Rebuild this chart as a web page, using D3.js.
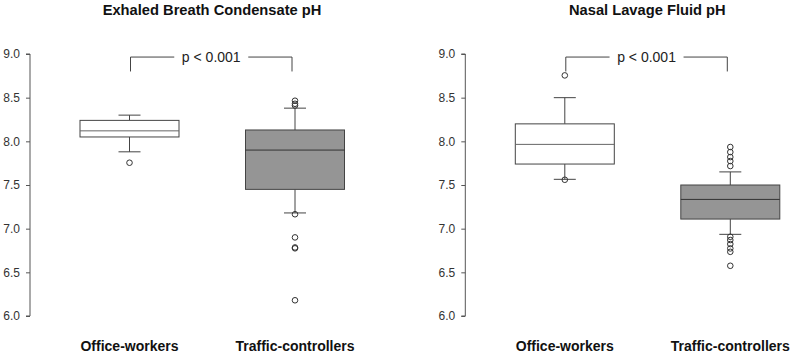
<!DOCTYPE html>
<html>
<head>
<meta charset="utf-8">
<script src="https://cdn.jsdelivr.net/npm/d3@7"></script>
<style>
  body { margin: 0; background: #fff; }
  svg { font-family: "Liberation Sans", Arial, sans-serif; }
</style>
</head>
<body>
<svg id="chart" width="793" height="355"></svg>
<script>
// data
const titles = ["Exhaled Breath Condensate pH", "Nasal Lavage Fluid pH"];
const groups = ["Office-workers", "Traffic-controllers"];
const yTicks = [6.0, 6.5, 7.0, 7.5, 8.0, 8.5, 9.0];
const pLabel = "p < 0.001";

// [lower whisker, q1, median, q3, upper whisker]
const ebcOffice = [7.88, 8.05, 8.12, 8.24, 8.30];
const ebcTraffic = [7.18, 7.45, 7.90, 8.13, 8.38];
const nlfOffice = [7.565, 7.74, 7.965, 8.20, 8.50];
const nlfTraffic = [6.935, 7.11, 7.335, 7.50, 7.65];

const ebcOfficeOut = [7.755];
const ebcTrafficOut = [8.465, 8.43, 8.41, 7.165, 6.90, 6.785, 6.775, 6.18];
const nlfOfficeOut = [8.755, 7.56];
const nlfTrafficOut = [7.935, 7.877, 7.82, 7.774, 7.717, 6.907, 6.87, 6.824, 6.774, 6.735, 6.575];

const fills = ["#ffffff", "#959595"];

const svg = d3.select("#chart");

const y = d3.scaleLinear().domain([6, 9]).range([316, 54]);

const panels = [
  {title: titles[0], axisX: 30, stats: [ebcOffice, ebcTraffic], outs: [ebcOfficeOut, ebcTrafficOut]},
  {title: titles[1], axisX: 465.3, stats: [nlfOffice, nlfTraffic], outs: [nlfOfficeOut, nlfTrafficOut]}
];

const boxW = 99;
const capW = 22;

panels.forEach(p => {
  var x = d3.scalePoint().domain(groups).range([p.axisX + 99.5, p.axisX + 265]);
  var g = svg.append("g");

  // title
  g.append("text")
    .attr("x", p.axisX + 182)
    .attr("y", 14.5)
    .attr("text-anchor", "middle")
    .style("font-weight", "bold")
    .style("font-size", "14.7px")
    .style("fill", "#111")
    .text(p.title);

  // y axis
  var ax = g.append("g")
    .attr("transform", `translate(${p.axisX},0)`)
    .call(d3.axisLeft(y).tickValues(yTicks).tickFormat(d3.format(".1f")).tickSize(4).tickPadding(6));
  ax.select(".domain").attr("stroke", "#555").attr("d", `M-4,${y(6)}H0V${y(9)}H-4`);
  ax.selectAll(".tick line").attr("stroke", "#555");
  ax.selectAll(".tick text")
    .style("font-size", "12px")
    .style("fill", "#333")
    .style("font-family", "'Liberation Sans', Arial, sans-serif");

  // boxes
  groups.forEach((name, i) => {
    var s = p.stats[i];
    var cx = x(name);
    var bg = g.append("g");

    // whiskers
    bg.append("line")
      .attr("x1", cx).attr("x2", cx)
      .attr("y1", y(s[0])).attr("y2", y(s[1]))
      .attr("stroke", "#444");
    bg.append("line")
      .attr("x1", cx).attr("x2", cx)
      .attr("y1", y(s[3])).attr("y2", y(s[4]))
      .attr("stroke", "#444");
    [s[0], s[4]].forEach(v => {
      bg.append("line")
        .attr("x1", cx - capW / 2).attr("x2", cx + capW / 2)
        .attr("y1", y(v)).attr("y2", y(v))
        .attr("stroke", "#444");
    });

    // box
    bg.append("rect")
      .attr("x", cx - boxW / 2)
      .attr("y", y(s[3]))
      .attr("width", boxW)
      .attr("height", y(s[1]) - y(s[3]))
      .attr("fill", fills[i])
      .attr("stroke", "#444");

    // median
    bg.append("line")
      .attr("x1", cx - boxW / 2).attr("x2", cx + boxW / 2)
      .attr("y1", y(s[2])).attr("y2", y(s[2]))
      .attr("stroke", i == 0 ? "#666" : "#333");

    // outliers
    bg.selectAll("circle")
      .data(p.outs[i])
      .enter()
      .append("circle")
      .attr("cx", cx)
      .attr("cy", d => y(d))
      .attr("r", 2.8)
      .attr("fill", "none")
      .attr("stroke", "#333");

    // group label
    g.append("text")
      .attr("x", cx)
      .attr("y", 351)
      .attr("text-anchor", "middle")
      .style("font-weight", "bold")
      .style("font-size", "14px")
      .style("fill", "#111")
      .text(name);
  });

  // significance bracket
  var xl = x(groups[0]) + 1, xr = x(groups[1]) - 3;
  var yt = y(8.965), yb = y(8.80);
  var mid = (xl + xr) / 2;
  var gap = 37;
  g.append("path")
    .attr("d", `M${xl},${yb}V${yt}H${mid - gap}M${mid + gap},${yt}H${xr}V${yb}`)
    .attr("fill", "none")
    .attr("stroke", "#444");
  g.append("text")
    .attr("x", mid)
    .attr("y", yt + 5)
    .attr("text-anchor", "middle")
    .style("font-size", "14px")
    .style("fill", "#222")
    .text(pLabel);
});
</script>
</body>
</html>
